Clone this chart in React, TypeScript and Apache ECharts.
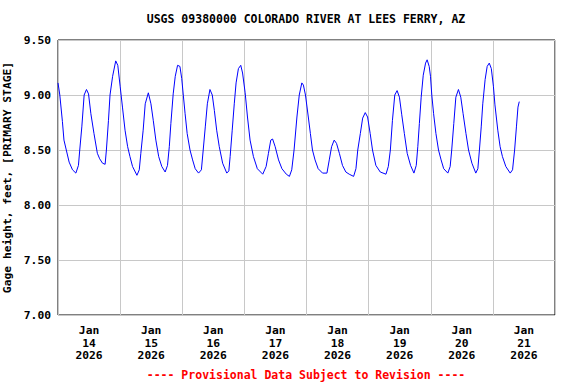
import React, { useEffect, useRef } from "react";
import * as echarts from "echarts";

const titleText = "USGS 09380000 COLORADO RIVER AT LEES FERRY, AZ";
const yAxisName = "Gage height, feet, [PRIMARY STAGE]";
const footerText = "---- Provisional Data Subject to Revision ----";

const dayLabels = [
  "Jan\n14\n2026",
  "Jan\n15\n2026",
  "Jan\n16\n2026",
  "Jan\n17\n2026",
  "Jan\n18\n2026",
  "Jan\n19\n2026",
  "Jan\n20\n2026",
  "Jan\n21\n2026",
];

// hours since Jan 14 2026 00:00
const hoursSinceJan14 = [
  0, 0.7, 1.7, 2.3, 3.2, 4.3, 5.6, 6.9, 7.9, 8.4, 9.2, 10.1, 11.0, 11.8, 12.7, 13.9, 15.2, 16.1, 17.2, 18.2,
  18.7, 19.5, 20.1, 21.1, 22.3, 23.1, 24.0, 24.9, 25.9, 26.9, 27.8, 28.8, 30.5, 31.4, 32.0, 32.9, 33.7, 34.9,
  35.9, 36.8, 37.8, 38.9, 40.1, 41.4, 42.3, 43.0, 43.6, 44.5, 45.3, 46.2, 47.1,
  47.8, 48.4, 49.1, 49.9, 51.0, 52.0, 53.0, 54.3, 55.4, 56.1, 56.9, 57.7, 58.7, 59.6, 60.4, 61.3, 62.3, 63.6,
  65.2, 66.0, 66.5, 67.3, 68.1, 68.8, 69.7, 70.6, 71.3, 72.3, 73.2, 74.2, 75.5, 77.0, 79.1, 80.4, 81.3, 82.2,
  82.9, 83.9, 85.2, 86.5, 88.2, 89.4, 90.3, 91.2, 92.3, 93.2, 94.2, 94.8, 95.6,
  96.7, 97.5, 98.3, 99.3, 100.5, 102.2, 103.9, 104.8, 105.7, 106.7, 107.6, 108.7, 109.9, 111.2, 112.5, 114.2,
  115.1, 115.8, 116.8, 117.7, 118.7, 119.6, 120.6, 121.5, 122.8, 124.5, 126.7, 127.6, 128.4, 129.2, 130.1,
  131.0, 131.9, 132.8, 133.8, 134.9, 136.2, 137.5, 138.4, 139.0, 139.6, 140.3, 141.1, 142.0, 142.6, 143.4, 143.9,
  144.4, 145.1, 146.0, 147.0, 148.0, 149.0, 150.6, 151.5, 152.1, 152.9, 153.7, 154.7, 155.6, 156.5, 157.6,
  158.6, 159.9, 161.4, 162.2, 162.8, 163.5, 164.1, 165.0, 165.8, 166.6, 167.4, 168.2, 168.8, 169.9, 170.8,
  171.7, 173.0, 174.7, 175.6, 176.4, 177.1, 177.7, 178.2,
];

const gageHeightFeet = [
  9.11, 9.0, 8.76, 8.59, 8.5, 8.39, 8.32, 8.29, 8.36, 8.5, 8.71, 9.0, 9.05, 9.01, 8.83, 8.65, 8.47, 8.42, 8.38, 8.37,
  8.5, 8.77, 9.0, 9.17, 9.31, 9.27, 9.08, 8.89, 8.68, 8.53, 8.44, 8.35, 8.27, 8.32, 8.47, 8.68, 8.92, 9.02,
  8.92, 8.77, 8.59, 8.44, 8.35, 8.3, 8.36, 8.53, 8.74, 9.01, 9.17, 9.27, 9.26,
  9.15, 9.0, 8.83, 8.65, 8.5, 8.41, 8.33, 8.29, 8.32, 8.5, 8.71, 8.92, 9.05, 9.0, 8.86, 8.68, 8.53, 8.38,
  8.29, 8.31, 8.44, 8.68, 8.92, 9.11, 9.24, 9.27, 9.2, 9.02, 8.8, 8.59, 8.44, 8.33, 8.28, 8.35, 8.47, 8.59,
  8.6, 8.53, 8.41, 8.33, 8.28, 8.26, 8.32, 8.5, 8.8, 9.0, 9.11, 9.09, 9.0,
  8.8, 8.65, 8.5, 8.41, 8.33, 8.29, 8.29, 8.41, 8.53, 8.59, 8.56, 8.47, 8.36, 8.3, 8.28, 8.26,
  8.33, 8.5, 8.65, 8.79, 8.84, 8.8, 8.65, 8.5, 8.36, 8.3, 8.28, 8.35, 8.5, 8.77, 9.0,
  9.04, 8.98, 8.82, 8.65, 8.47, 8.36, 8.29, 8.36, 8.53, 8.74, 8.98, 9.18, 9.29, 9.32, 9.26, 9.17,
  9.0, 8.83, 8.65, 8.5, 8.41, 8.33, 8.29, 8.35, 8.5, 8.74, 8.98, 9.05, 8.98, 8.83, 8.65,
  8.5, 8.38, 8.29, 8.33, 8.5, 8.71, 8.92, 9.14, 9.26, 9.29, 9.24, 9.08, 8.91, 8.68, 8.53,
  8.44, 8.35, 8.29, 8.32, 8.5, 8.71, 8.89, 8.94,
];

const FONT = "'DejaVu Sans Mono', 'Liberation Mono', monospace";

export default function App() {
  const ref = useRef<HTMLDivElement>(null);

  useEffect(() => {
    if (!ref.current) return;
    const chart = echarts.init(ref.current, null, { renderer: "svg" });
    const data = hoursSinceJan14.map((h, i) => [h, gageHeightFeet[i]]);
    chart.setOption({
      animation: false,
      backgroundColor: "#ffffff",
      title: {
        text: titleText,
        left: 306,
        top: 13,
        padding: 0,
        textAlign: "center",
        textStyle: { fontFamily: FONT, fontWeight: "bold", fontSize: 11.5, color: "#000" },
      },
      grid: {
        left: 58,
        right: 21,
        top: 40,
        height: 275,
        outerBoundsMode: "none",
        containLabel: false,
        show: true,
        borderColor: "#000",
        borderWidth: 1,
        backgroundColor: "transparent",
      },
      xAxis: [
        {
          type: "value",
          min: 0,
          max: 192,
          interval: 24,
          axisLine: { show: false },
          axisTick: { show: false },
          axisLabel: { show: false },
          splitLine: { show: true, lineStyle: { color: "#c8c8c8", width: 1 } },
        },
        {
          type: "category",
          data: dayLabels,
          position: "bottom",
          boundaryGap: true,
          axisLine: { show: false },
          axisTick: { show: false },
          splitLine: { show: false },
          axisLabel: {
            margin: 9,
            interval: 0,
            fontFamily: FONT,
            fontWeight: "bold",
            fontSize: 11.3,
            lineHeight: 12.7,
            color: "#000",
          },
        },
      ],
      yAxis: {
        type: "value",
        min: 7,
        max: 9.5,
        interval: 0.5,
        name: yAxisName,
        nameLocation: "middle",
        nameGap: 40,
        nameRotate: 90,
        nameTextStyle: { fontFamily: FONT, fontWeight: "bold", fontSize: 11.3, color: "#000" },
        axisLine: { show: false },
        axisTick: { show: false },
        axisLabel: {
          margin: 7,
          formatter: (v: number) => v.toFixed(2),
          fontFamily: FONT,
          fontWeight: "bold",
          fontSize: 11.3,
          color: "#000",
        },
        splitLine: { show: true, lineStyle: { color: "#c8c8c8", width: 1 } },
      },
      series: [
        {
          type: "line",
          xAxisIndex: 0,
          data,
          showSymbol: false,
          lineStyle: { color: "#0000ff", width: 1 },
          z: 3,
        },
      ],
      graphic: [
        {
          type: "text",
          x: 306,
          y: 375,
          style: {
            text: footerText,
            fill: "#ff0000",
            font: `bold 11.5px ${FONT}`,
            textAlign: "center",
            textVerticalAlign: "middle",
          },
        },
      ],
    });
    return () => chart.dispose();
  }, []);

  return (
    <div
      ref={ref}
      style={{ position: "fixed", left: 0, top: 0, width: 576, height: 384 }}
    />
  );
}
